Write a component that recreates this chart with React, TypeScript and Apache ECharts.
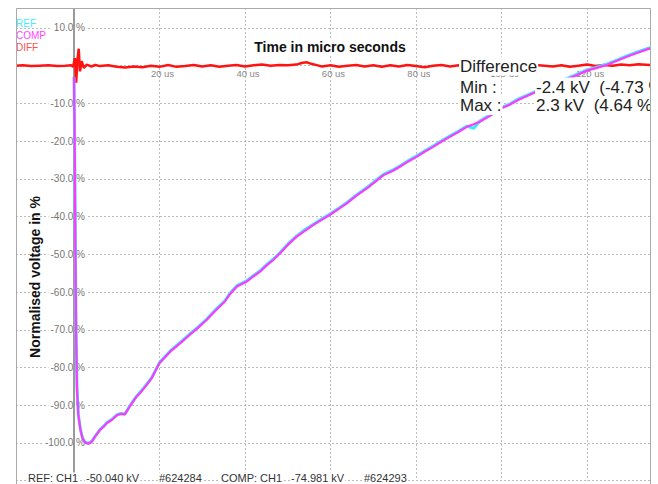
import React, { useEffect, useRef } from 'react';
import * as echarts from 'echarts';

// ---------- data ----------
const diffTime = [-13.57, -12, -10, -8, -6, -4, -2, -0.6, -0.2, 0.2, 0.5, 0.8, 1.1, 1.4, 1.8, 2.3, 3, 4, 5, 6, 8, 10, 12, 14, 16, 18, 20, 22, 24, 26, 28, 30, 32, 34, 36, 38, 40, 42, 44, 46, 48, 50, 52, 53.5, 54.5, 55.5, 57, 58, 60, 62, 64, 66, 68, 70, 72, 74, 76, 78, 80, 82, 84, 86, 88, 90, 92, 94, 96, 98, 100, 102, 104, 106, 108, 110, 112, 114, 116, 118, 120, 122, 124, 126, 128, 130, 132, 134.74];
const diffValue = [0.0, 0.1, -0.1, 0.0, 0.1, -0.1, 0.0, 0.1, -0.3, 2.0, -4.5, 1.5, 4.5, -1.5, 1.2, -0.6, 0.3, -0.2, 0.2, -0.1, 0.1, -0.3, -0.5, -0.2, -0.4, 0.0, -0.3, 0.2, -0.3, -0.1, 0.2, -0.2, 0.1, -0.3, 0.0, 0.2, -0.2, 0.1, 0.3, 0.0, 0.2, 0.1, 0.3, 0.8, 0.9, 0.5, 0.1, -0.2, 0.1, -0.3, 0.0, 0.2, -0.2, 0.1, -0.3, 0.1, -0.2, 0.2, -0.1, -0.4, 0.0, 0.2, -0.2, 0.1, -0.3, 0.2, 0.0, -0.2, 0.2, -0.1, 0.1, -0.2, 0.2, 0.0, -0.2, 0.1, -0.3, 0.0, 0.3, -0.1, 0.2, 0.0, 0.3, 0.1, 0.4, 0.2];

const waveTime = [0, 0.15, 0.3, 0.5, 0.7, 1.0, 1.5, 2.0, 2.6, 3.4, 4.2, 5.0, 6.1, 7.0, 7.7, 8.8, 10.1, 11.0, 11.9, 13.1, 14.5, 15.4, 16.6, 18.2, 20, 22.5, 25, 27.1, 29, 31.0, 33, 35.3, 36.5, 38.1, 40.4, 42, 43.5, 45, 46.6, 48.2, 50, 52.1, 54, 56.0, 58, 59.9, 62, 63.8, 66, 68.5, 70.5, 72.4, 74.5, 76.3, 78, 80.2, 82, 84.0, 86, 88.0, 90, 91.9, 93.5, 95.0, 97.3, 100, 102, 104, 107.4, 110, 112.5, 115, 117.6, 120, 122.5, 124.6, 127, 129.3, 132, 134.74];
const compValue = [-3, -20, -45, -72, -86, -92.5, -96.5, -98.8, -99.9, -100.2, -99.6, -98.2, -96.5, -95.6, -94.7, -93.9, -92.6, -92.3, -92.4, -90.2, -87.9, -86.8, -85.2, -82.8, -78.8, -75.8, -73.4, -71.3, -69.5, -67.4, -65.0, -62.5, -60.5, -58.5, -57.2, -55.8, -54.6, -53.0, -51.5, -49.7, -47.5, -45.3, -43.8, -42.2, -40.8, -39.5, -37.9, -36.5, -34.5, -32.5, -30.7, -29.0, -27.9, -26.7, -25.5, -24.1, -22.8, -21.5, -20.1, -18.8, -17.5, -16.2, -15.5, -14.8, -13.3, -11.3, -10.3, -9.0, -7.3, -6.0, -4.9, -3.7, -2.5, -1.3, -0.5, 0.2, 1.3, 2.4, 3.5, 4.6];
const refValue = [-3, -20, -44, -71, -85, -92.4, -96.4, -98.7, -99.8, -100.1, -99.5, -98.1, -96.4, -95.5, -94.6, -93.8, -92.5, -92.2, -92.3, -90.1, -87.8, -86.6, -85.0, -82.6, -78.7, -75.6, -73.2, -71.1, -69.3, -67.2, -64.8, -62.3, -60.3, -58.3, -57.0, -55.6, -54.4, -52.8, -51.3, -49.5, -47.3, -45.1, -43.5, -42.0, -40.6, -39.3, -37.7, -36.3, -34.3, -32.3, -30.5, -28.8, -27.7, -26.5, -25.3, -23.9, -22.6, -21.3, -19.9, -18.6, -17.3, -16.0, -16.6, -14.6, -13.1, -11.1, -10.1, -8.8, -7.1, -5.8, -4.7, -3.5, -2.3, -1.1, -0.3, 0.4, 1.5, 2.6, 3.7, 4.8];

const legendNames = ['REF', 'COMP', 'DIFF'];
const yUnit = ' %';
const xUnit = ' us';
const xAxisTitle = 'Time in micro seconds';
const yAxisTitle = 'Normalised voltage in %';
const diffHeader = 'Difference';
const diffRowLabels = ['Min :', 'Max :'];
const diffRowValues = ['-2.4 kV  (-4.73 %)', '2.3 kV  (4.64 %)'];
const footerTexts = ['REF: CH1', '-50.040 kV', '#624284', 'COMP: CH1', '-74.981 kV', '#624293'];

// ---------- styles ----------
const FONT = '"Liberation Sans", Arial, Helvetica, sans-serif';
const COLORS = { REF: '#3de6ff', COMP: '#ff38ff', DIFF: '#ff1212' };
const LEGEND_COLORS = { REF: '#45eeff', COMP: '#ff45ff', DIFF: '#ff5050' };
const footerX = [27, 85, 158, 220, 290, 363];

export default function App() {
  const ref = useRef<HTMLDivElement>(null);
  useEffect(() => {
    if (!ref.current) return;
    const chart = echarts.init(ref.current, undefined, { renderer: 'svg' });

    const pair = (t: number[], v: number[]) => t.map((x, i) => [x, v[i]]);

    const graphics: any[] = [
      {
        type: 'text', z: 10, x: 330, y: 47,
        style: { text: xAxisTitle, fontFamily: FONT, fontSize: 14, fontWeight: 'bold', fill: '#111', align: 'center', verticalAlign: 'middle', backgroundColor: '#fff', padding: [2, 4] },
      },
      {
        type: 'text', z: 10, x: 35, y: 277, rotation: Math.PI / 2,
        style: { text: yAxisTitle, fontFamily: FONT, fontSize: 14, fontWeight: 'bold', fill: '#111', align: 'center', verticalAlign: 'middle' },
      },
      {
        type: 'text', z: 10, x: 459, y: 66,
        style: { text: diffHeader, fontFamily: FONT, fontSize: 17, fill: '#222', align: 'left', verticalAlign: 'middle', backgroundColor: '#fff', padding: [1, 1] },
      },
    ];
    const rowY = [87, 105.5];
    diffRowLabels.forEach((lab, i) => {
      graphics.push({
        type: 'text', z: 10, x: 459, y: rowY[i],
        style: { text: lab, fontFamily: FONT, fontSize: 17, fill: '#222', align: 'left', verticalAlign: 'middle', backgroundColor: '#fff', padding: [1, 1] },
      });
      graphics.push({
        type: 'text', z: 10, x: 535, y: rowY[i],
        style: { text: diffRowValues[i], fontFamily: FONT, fontSize: 17, fill: '#222', align: 'left', verticalAlign: 'middle', backgroundColor: '#fff', padding: [1, 1] },
      });
    });
    footerTexts.forEach((t, i) => {
      graphics.push({
        type: 'text', z: 10, x: footerX[i], y: 478,
        style: { text: t, fontFamily: FONT, fontSize: 11, fill: '#333', align: 'left', verticalAlign: 'middle', backgroundColor: '#fff', padding: [0, 1] },
      });
    });
    graphics.push({ type: 'rect', z: 11, shape: { x: 651, y: 0, width: 10, height: 484 }, style: { fill: '#fff' } });
    graphics.push({
      type: 'polyline', z: 12,
      shape: { points: [[16.5, 484], [16.5, 8.5], [650.5, 8.5], [650.5, 484]] },
      style: { stroke: '#aaa', lineWidth: 1, fill: 'none' },
    });

    chart.setOption({
      animation: false,
      backgroundColor: '#fff',
      grid: { left: 16, right: 8, top: 8, bottom: 3.3, show: false, containLabel: false, outerBoundsMode: 'none' },
      legend: {
        orient: 'vertical', left: 11, top: 17, padding: 0, itemGap: 0,
        itemWidth: 0, itemHeight: 12, icon: 'none', selectedMode: false,
        textStyle: { fontFamily: FONT, fontSize: 10, lineHeight: 12 },
        data: legendNames.map((n) => ({ name: n, textStyle: { color: (LEGEND_COLORS as any)[n] } })),
      },
      xAxis: {
        type: 'value', min: -13.57, max: 134.74, splitNumber: 7, position: 'top',
        axisLine: { show: false, onZero: false },
        axisTick: { show: false },
        axisLabel: {
          formatter: (v: number) => (v !== 0 && Math.abs(v % 20) < 1e-6 ? `${v}${xUnit}` : ''),
          fontFamily: FONT, fontSize: 9.5, color: '#888', margin: -65, verticalAlign: 'middle', padding: [0, 0, 0, 6],
        },
        splitLine: { show: true, lineStyle: { color: '#bbb', type: [2, 2], width: 1 } },
      },
      yAxis: {
        type: 'value', min: -110, max: 15.3, interval: 10, position: 'left',
        axisLine: { show: false, onZero: false },
        axisTick: { show: false },
        axisLabel: {
          formatter: (v: number) => (v !== 0 && v > -105 && Math.abs(v % 10) < 1e-6 ? `${v.toFixed(1)}${yUnit}` : ''),
          fontFamily: FONT, fontSize: 10, color: '#777', margin: -71, backgroundColor: '#fff', padding: [0, 2],
        },
        splitLine: { show: true, lineStyle: { color: '#bbb', type: [2, 2], width: 1 } },
      },
      series: [
        {
          name: 'DIFF', type: 'line', data: pair(diffTime, diffValue), showSymbol: false, symbol: 'none',
          lineStyle: { color: COLORS.DIFF, width: 2.5 }, itemStyle: { color: COLORS.DIFF },
          markLine: {
            silent: true, symbol: 'none', label: { show: false }, z: 1,
            lineStyle: { color: '#9a9a9a', width: 2, type: 'solid' },
            data: [{ xAxis: 0 }],
          },
        },
        { name: 'REF', type: 'line', data: pair(waveTime, refValue), showSymbol: false, symbol: 'none', lineStyle: { color: COLORS.REF, width: 3 }, itemStyle: { color: COLORS.REF } },
        { name: 'COMP', type: 'line', data: pair(waveTime, compValue), showSymbol: false, symbol: 'none', lineStyle: { color: COLORS.COMP, width: 2.2 }, itemStyle: { color: COLORS.COMP } },
      ],
      graphic: graphics,
    });
    return () => chart.dispose();
  }, []);
  return <div ref={ref} style={{ position: 'fixed', left: 0, top: 0, width: 658, height: 484, background: '#fff' }} />;
}
